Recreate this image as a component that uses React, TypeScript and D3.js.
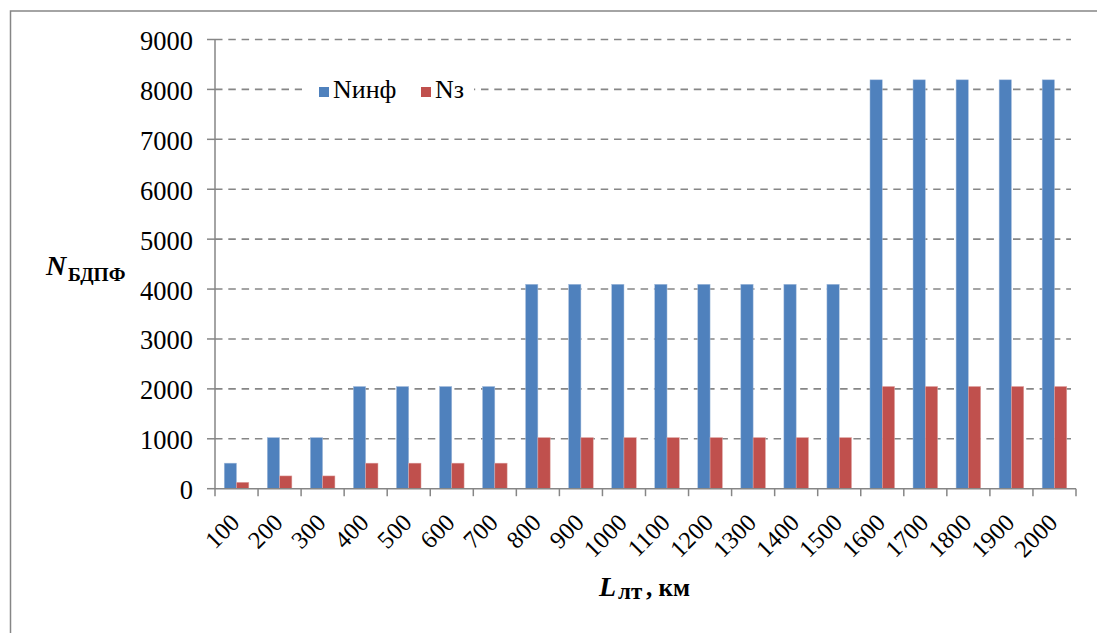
import React from "react";
import * as d3 from "d3";

const categories = ["100","200","300","400","500","600","700","800","900","1000","1100","1200","1300","1400","1500","1600","1700","1800","1900","2000"];
const nInf = [512,1024,1024,2048,2048,2048,2048,4096,4096,4096,4096,4096,4096,4096,4096,8192,8192,8192,8192,8192];
const nZ = [128,256,256,512,512,512,512,1024,1024,1024,1024,1024,1024,1024,1024,2048,2048,2048,2048,2048];
const seriesNames = ["Nинф", "Nз"];
const seriesColors = ["#4F81BD", "#C0504D"];
const yTicks = [0,1000,2000,3000,4000,5000,6000,7000,8000,9000];

const W = 1097, H = 633;
const FONT = "'Liberation Serif', 'Times New Roman', serif";
const AXIS = "#868686";
const T: React.CSSProperties = { fontFamily: FONT };

export default function App() {
  const x0 = 215, x1 = 1076, yTop = 39.5, yBot = 488.7;
  const x = d3.scaleBand<string>().domain(categories).range([x0, x1]).paddingInner(0).paddingOuter(0);
  const xs = d3.scaleBand<number>().domain([0, 1]).range([0, x.bandwidth()]).paddingInner(0).paddingOuter(0.75);
  const y = d3.scaleLinear().domain([0, 9000]).range([yBot, yTop]);
  const data = [nInf, nZ];
  const boundaries = d3.range(categories.length + 1).map(i => x0 + i * x.step());

  return (
    <svg width={W} height={H} style={{ position: "absolute", left: 0, top: 0, display: "block", background: "#fff", fontFamily: FONT }}>
      <rect x={10.5} y={11} width={W} height={H} fill="#fff" stroke={AXIS} strokeWidth={1.5} />
      {yTicks.filter(t => t > 0).map(t => (
        <line key={"g" + t} x1={x0} x2={1071} y1={y(t)} y2={y(t)} stroke={AXIS} strokeWidth={1.6} strokeDasharray="7.5,5.8" />
      ))}
      <rect x={302} y={76} width={172} height={26} fill="#fff" />
      {data.map((vals, si) => vals.map((v, i) => (
        <rect key={si + "-" + i}
          x={(x(categories[i]) as number) + (xs(si) as number)}
          y={y(v)}
          width={xs.bandwidth()}
          height={yBot - y(v)}
          fill={seriesColors[si]}
          stroke={si === 0 ? "#a9c0de" : "#dfa8a6"}
          strokeWidth={0.5}
        />
      )))}
      <line x1={x0} x2={x0} y1={yTop} y2={yBot} stroke={AXIS} strokeWidth={1.5} />
      {yTicks.map(t => (
        <line key={"yt" + t} x1={207} x2={x0} y1={y(t)} y2={y(t)} stroke={AXIS} strokeWidth={1.5} />
      ))}
      <line x1={x0} x2={x1} y1={yBot} y2={yBot} stroke={AXIS} strokeWidth={1.5} />
      {boundaries.map((b, i) => (
        <line key={"xt" + i} x1={b} x2={b} y1={yBot} y2={yBot + 7.5} stroke={AXIS} strokeWidth={1.5} />
      ))}
      {yTicks.map(t => (
        <text key={"yl" + t} style={T} x={193} y={y(t) + 10.5} textAnchor="end" fontSize={26.5} fill="#000">{t}</text>
      ))}
      {categories.map(c => {
        const cx = (x(c) as number) + x.bandwidth() / 2 + 4.5;
        const cy = 524;
        return (
          <text key={"xl" + c} style={T} x={cx} y={cy} textAnchor="end" fontSize={24.5} fill="#000" transform={`rotate(-45 ${cx} ${cy})`}>{c}</text>
        );
      })}
      {seriesNames.map((n, i) => {
        const lx = i === 0 ? 319 : 421;
        return (
          <g key={"lg" + i}>
            <rect x={lx} y={87} width={10} height={10} fill={seriesColors[i]} />
            <text style={T} x={lx + 14} y={98} fontSize={26} fill="#000">{n}</text>
          </g>
        );
      })}
      <text style={T} x={46} y={275} fontSize={28} fontWeight="bold" fontStyle="italic" fill="#000">N</text>
      <text style={T} x={68} y={281} fontSize={19.5} fontWeight="bold" fill="#000">БДПФ</text>
      <text style={T} x={599} y={596} fontSize={28} fontWeight="bold" fontStyle="italic" fill="#000">L</text>
      <text style={T} x={618} y={599} fontSize={23} fontWeight="bold" fill="#000">лт</text>
      <text style={T} x={646} y={596} fontSize={25} fontWeight="bold" fill="#000">, км</text>
    </svg>
  );
}
